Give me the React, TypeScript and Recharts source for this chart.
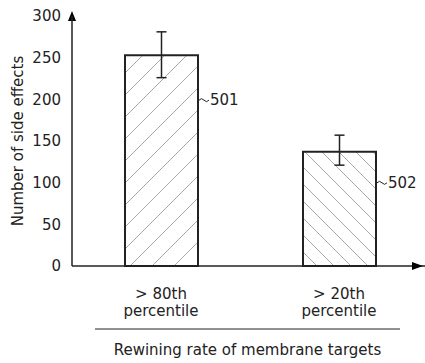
import React from 'react';
import { BarChart, Bar, XAxis, YAxis, ErrorBar, Cell, LabelList } from 'recharts';

// groups along the x axis, with their bar reference numbers
const groups = ['> 80th percentile', '> 20th percentile'];
const sideEffects = [253, 137];
const errLow = [27, 16];
const errHigh = [28, 20];
const refNumbers = ['501', '502'];
const yTicks = [0, 50, 100, 150, 200, 250, 300];

const data = groups.map((g, i) => ({
    name: g,
    value: sideEffects[i],
    err: [errLow[i], errHigh[i]],
    refNo: refNumbers[i],
}));

const FONT = '"DejaVu Sans", sans-serif';
const FS = 15;
const INK = '#222';
const patterns = ['hatchUp', 'hatchDown'];
// how far below the bar top the reference number sits
const refDrop = [45, 31];

const GroupTick = (props: any) => {
    const { x, y, payload } = props;
    const [first, ...rest] = String(payload.value).split(' ');
    const top = `${first} ${rest[0]}`;
    const bottom = rest.slice(1).join(' ');
    return (
        <g>
            <text x={x} y={y + 25} textAnchor="middle" fontSize={FS} fill={INK} fontFamily={FONT}>{top}</text>
            <text x={x} y={y + 42} textAnchor="middle" fontSize={FS} fill={INK} fontFamily={FONT}>{bottom}</text>
        </g>
    );
};

const RefLabel = (props: any) => {
    const { x, y, width, value, index } = props;
    const lx = x + width + 1;
    const ly = y + refDrop[index];
    return (
        <g>
            <path d={`M${lx},${ly} q2.5,-3 5,0 t5,0`} fill="none" stroke={INK} strokeWidth={1} />
            <text x={lx + 11} y={ly} dy={5} fontSize={FS} fill={INK} fontFamily={FONT}>{value}</text>
        </g>
    );
};

const YTitle = (props: any) => {
    const { viewBox } = props;
    const ax = viewBox.x + viewBox.width;
    const cy = viewBox.y + viewBox.height / 2;
    return (
        <g>
            <text x={18} y={cy} transform={`rotate(-90, 18, ${cy})`} dy={5} textAnchor="middle" fontSize={FS} fill={INK} fontFamily={FONT}>
                Number of side effects
            </text>
            <path d={`M${ax - 4},${viewBox.y + 5} L${ax},${viewBox.y - 5} L${ax + 4},${viewBox.y + 5} Z`} fill="#000" />
            <line x1={ax} y1={viewBox.y + 5} x2={ax} y2={viewBox.y} stroke={INK} strokeWidth={1.5} />
        </g>
    );
};

const XTitle = (props: any) => {
    const { viewBox } = props;
    const left = viewBox.x + 23;
    const right = viewBox.x + viewBox.width - 28;
    const tip = viewBox.x + viewBox.width - 5;
    return (
        <g>
            <path d={`M${tip - 11},${viewBox.y - 4} L${tip},${viewBox.y} L${tip - 11},${viewBox.y + 4} Z`} fill="#000" />
            <line x1={left} y1={viewBox.y + 63} x2={right} y2={viewBox.y + 63} stroke={INK} strokeWidth={1} />
            <text x={(left + right) / 2} y={viewBox.y + 84} dy={5} textAnchor="middle" fontSize={FS} fill={INK} fontFamily={FONT}>
                Rewining rate of membrane targets
            </text>
        </g>
    );
};

export default function App() {
    return (
        <div style={{ width: 425, height: 363, overflow: 'hidden', background: '#fff' }}>
            <style>{'body{margin:0}'}</style>
            <BarChart width={425} height={363} data={data} margin={{ top: 16, right: -3, left: 0, bottom: 0 }}>
                <defs>
                    <pattern id="hatchUp" patternUnits="userSpaceOnUse" width={22} height={22}>
                        <path d="M0,22 L22,0 M-3,3 L3,-3 M19,25 L25,19" stroke="#aaa" strokeWidth={1} />
                    </pattern>
                    <pattern id="hatchDown" patternUnits="userSpaceOnUse" width={17} height={17}>
                        <path d="M0,0 L17,17 M-3,14 L3,20 M14,-3 L20,3" stroke="#aaa" strokeWidth={1} />
                    </pattern>
                </defs>
                <XAxis
                    dataKey="name"
                    height={97}
                    axisLine={{ stroke: INK, strokeWidth: 1.5 }}
                    tickLine={false}
                    tick={<GroupTick />}
                    interval={0}
                    label={{ content: <XTitle /> }}
                />
                <YAxis
                    width={72}
                    domain={[0, 300]}
                    ticks={yTicks}
                    axisLine={{ stroke: INK, strokeWidth: 1.5 }}
                    tickLine={false}
                    tickMargin={5}
                    tick={{ fontSize: FS, fill: INK, fontFamily: FONT }}
                    label={{ content: <YTitle /> }}
                />
                <Bar dataKey="value" barSize={73} stroke={INK} strokeWidth={2} isAnimationActive={false}>
                    {data.map((d, i) => (
                        <Cell key={d.name} fill={`url(#${patterns[i]})`} />
                    ))}
                    <ErrorBar dataKey="err" width={5} stroke={INK} strokeWidth={1.5} direction="y" />
                    <LabelList dataKey="refNo" content={<RefLabel />} />
                </Bar>
            </BarChart>
        </div>
    );
}
